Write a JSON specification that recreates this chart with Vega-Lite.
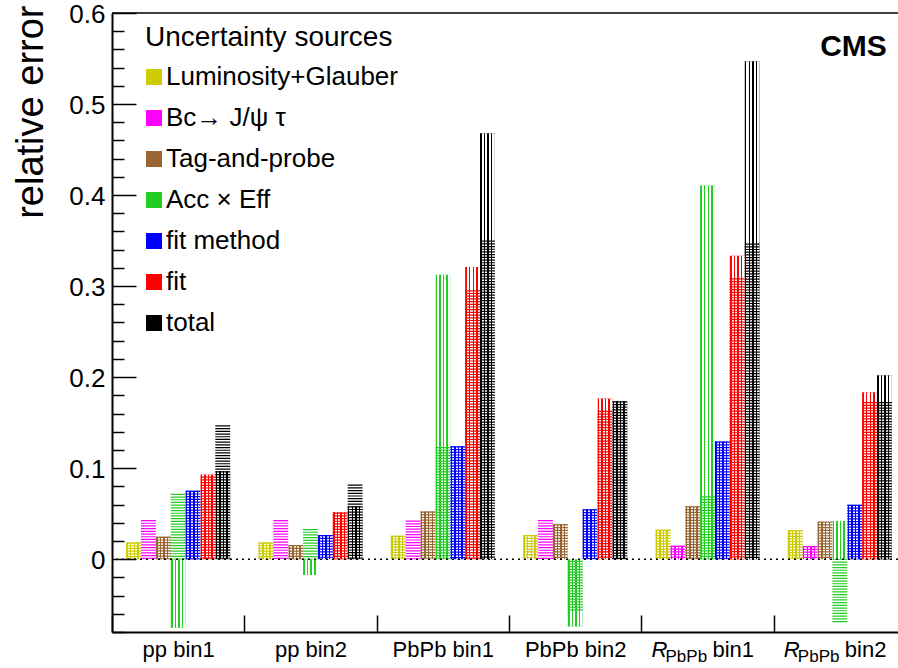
{
  "$schema": "https://vega.github.io/schema/vega-lite/v6.json",
  "autosize": {"type": "none"},
  "padding": {"left": 112, "top": 13, "right": 0, "bottom": 36},
  "width": 786,
  "height": 619,
  "background": "white",
  "config": {"view": {"stroke": null}, "font": "Liberation Sans"},
  "data": {"values": [
    {"bin": "pp bin1", "src": "Luminosity+Glauber", "a": 0.0184, "b": 0.0184},
    {"bin": "pp bin1", "src": "Bc→ J/ψ τ", "a": 0.0431, "b": 0},
    {"bin": "pp bin1", "src": "Tag-and-probe", "a": 0.0247, "b": 0.0247},
    {"bin": "pp bin1", "src": "Acc × Eff", "a": 0.0719, "b": -0.0752},
    {"bin": "pp bin1", "src": "fit method", "a": 0.0752, "b": 0.0752},
    {"bin": "pp bin1", "src": "fit", "a": 0.0907, "b": 0.0929},
    {"bin": "pp bin1", "src": "total", "a": 0.147, "b": 0.0969},
    {"bin": "pp bin2", "src": "Luminosity+Glauber", "a": 0.0184, "b": 0.0184},
    {"bin": "pp bin2", "src": "Bc→ J/ψ τ", "a": 0.0431, "b": 0},
    {"bin": "pp bin2", "src": "Tag-and-probe", "a": 0.0155, "b": 0.0155},
    {"bin": "pp bin2", "src": "Acc × Eff", "a": 0.0332, "b": -0.0174},
    {"bin": "pp bin2", "src": "fit method", "a": 0.0265, "b": 0.0265},
    {"bin": "pp bin2", "src": "fit", "a": 0.0512, "b": 0.0515},
    {"bin": "pp bin2", "src": "total", "a": 0.0819, "b": 0.0582},
    {"bin": "PbPb bin1", "src": "Luminosity+Glauber", "a": 0.0258, "b": 0.0258},
    {"bin": "PbPb bin1", "src": "Bc→ J/ψ τ", "a": 0.0425, "b": 0},
    {"bin": "PbPb bin1", "src": "Tag-and-probe", "a": 0.0524, "b": 0.0524},
    {"bin": "PbPb bin1", "src": "Acc × Eff", "a": 0.1233, "b": 0.3125},
    {"bin": "PbPb bin1", "src": "fit method", "a": 0.124, "b": 0.124},
    {"bin": "PbPb bin1", "src": "fit", "a": 0.2955, "b": 0.321},
    {"bin": "PbPb bin1", "src": "total", "a": 0.35, "b": 0.468},
    {"bin": "PbPb bin2", "src": "Luminosity+Glauber", "a": 0.0265, "b": 0.0265},
    {"bin": "PbPb bin2", "src": "Bc→ J/ψ τ", "a": 0.0431, "b": 0},
    {"bin": "PbPb bin2", "src": "Tag-and-probe", "a": 0.0383, "b": 0.0383},
    {"bin": "PbPb bin2", "src": "Acc × Eff", "a": -0.0564, "b": -0.074},
    {"bin": "PbPb bin2", "src": "fit method", "a": 0.0548, "b": 0.0548},
    {"bin": "PbPb bin2", "src": "fit", "a": 0.163, "b": 0.1765},
    {"bin": "PbPb bin2", "src": "total", "a": 0.1735, "b": 0.1735},
    {"bin": "R_PbPb bin1", "src": "Luminosity+Glauber", "a": 0.0324, "b": 0.0324},
    {"bin": "R_PbPb bin1", "src": "Bc→ J/ψ τ", "a": 0.0147, "b": 0.0147},
    {"bin": "R_PbPb bin1", "src": "Tag-and-probe", "a": 0.0581, "b": 0.0581},
    {"bin": "R_PbPb bin1", "src": "Acc × Eff", "a": 0.0691, "b": 0.4104},
    {"bin": "R_PbPb bin1", "src": "fit method", "a": 0.1292, "b": 0.1292},
    {"bin": "R_PbPb bin1", "src": "fit", "a": 0.3086, "b": 0.3334},
    {"bin": "R_PbPb bin1", "src": "total", "a": 0.3468, "b": 0.547},
    {"bin": "R_PbPb bin2", "src": "Luminosity+Glauber", "a": 0.0317, "b": 0.0317},
    {"bin": "R_PbPb bin2", "src": "Bc→ J/ψ τ", "a": 0.0144, "b": 0.0144},
    {"bin": "R_PbPb bin2", "src": "Tag-and-probe", "a": 0.0412, "b": 0.0412},
    {"bin": "R_PbPb bin2", "src": "Acc × Eff", "a": -0.0692, "b": 0.042},
    {"bin": "R_PbPb bin2", "src": "fit method", "a": 0.0597, "b": 0.0597},
    {"bin": "R_PbPb bin2", "src": "fit", "a": 0.1726, "b": 0.1833},
    {"bin": "R_PbPb bin2", "src": "total", "a": 0.1726, "b": 0.2021}
  ]},
  "resolve": {"axis": {"y": "independent"}},
  "layer": [
    {
      "mark": {"type": "bar"},
      "encoding": {
        "x": {"field": "bin", "type": "nominal",
          "scale": {"type": "band", "domain": ["pp bin1", "pp bin2", "PbPb bin1", "PbPb bin2", "R_PbPb bin1", "R_PbPb bin2"], "range": [0, 794], "paddingInner": 0, "paddingOuter": 0},
          "axis": {"title": null, "domain": true, "domainColor": "black", "domainWidth": 2, "ticks": true, "tickBand": "extent", "tickSize": -17, "tickColor": "black", "tickWidth": 1.5, "labelFontSize": 22, "labelColor": "black", "labelPadding": 24, "labelAngle": 0, "labelExpr": "indexof(datum.label, 'R_') == 0 ? '' : datum.label", "zindex": 1}},
        "xOffset": {"field": "src", "type": "nominal", "scale": {"domain": ["Luminosity+Glauber", "Bc→ J/ψ τ", "Tag-and-probe", "Acc × Eff", "fit method", "fit", "total"], "paddingOuter": 0.952, "paddingInner": 0}},
        "y": {"field": "b", "type": "quantitative",
          "scale": {"domain": [-0.08, 0.6], "nice": false, "zero": false},
          "axis": {"orient": "left", "title": "relative error", "values": [0, 0.1, 0.2, 0.3, 0.4, 0.5, 0.6],
            "labelExpr": "abs(datum.value) < 0.001 ? '0' : format(datum.value, '.1f')",
            "labelOverlap": false, "labelFlush": false, "labelOffset": 1.5,
            "tickSize": -24,
            "grid": false, "domainColor": "black", "domainWidth": 2, "tickColor": "black", "tickWidth": 1.5,
            "labelFontSize": 26, "labelColor": "black", "labelPadding": 31,
            "titleFontSize": 38, "titleFontWeight": "normal", "titleColor": "black", "titleAnchor": "end", "titleX": -70, "titleY": -8, "titleBaseline": "alphabetic", "titleAlign": "right", "zindex": 1}},
        "color": {"field": "src", "type": "nominal",
          "scale": {"domain": ["Luminosity+Glauber", "Bc→ J/ψ τ", "Tag-and-probe", "Acc × Eff", "fit method", "fit", "total"], "range": ["#cccc00", "#ff00ff", "#996633", "#22cc22", "#0000ff", "#ff0000", "#000000"]},
          "legend": {"title": "Uncertainty sources", "orient": "none", "legendX": 33, "legendY": 11, "titleFontSize": 28, "titleFontWeight": "normal", "titleColor": "black", "titlePadding": 12, "titleLimit": 500, "labelFontSize": 26, "labelColor": "black", "labelOffset": -1, "symbolOffset": -4, "symbolType": "square", "symbolSize": 256, "symbolStrokeWidth": 0, "symbolOpacity": 1, "rowPadding": 15, "labelLimit": 400}}
      }
    },
    {
      "mark": {"type": "bar", "fill": {"gradient": "linear", "x1": 0, "y1": 0, "x2": 1, "y2": 0, "stops": [
        {"offset": 0, "color": "#ffffff"}, {"offset": 0.02, "color": "#ffffff"}, {"offset": 0.02, "color": "rgba(255,255,255,0)"}, {"offset": 0.12, "color": "rgba(255,255,255,0)"},
        {"offset": 0.12, "color": "#ffffff"}, {"offset": 0.26, "color": "#ffffff"}, {"offset": 0.26, "color": "rgba(255,255,255,0)"}, {"offset": 0.36, "color": "rgba(255,255,255,0)"},
        {"offset": 0.36, "color": "#ffffff"}, {"offset": 0.5, "color": "#ffffff"}, {"offset": 0.5, "color": "rgba(255,255,255,0)"}, {"offset": 0.6, "color": "rgba(255,255,255,0)"},
        {"offset": 0.6, "color": "#ffffff"}, {"offset": 0.74, "color": "#ffffff"}, {"offset": 0.74, "color": "rgba(255,255,255,0)"}, {"offset": 0.84, "color": "rgba(255,255,255,0)"},
        {"offset": 0.84, "color": "#ffffff"}, {"offset": 1, "color": "#ffffff"}]}},
      "encoding": {
        "x": {"field": "bin", "type": "nominal"},
        "xOffset": {"field": "src", "type": "nominal"},
        "y": {"field": "b", "type": "quantitative",
          "axis": {"orient": "left", "title": null, "values": [-0.08, -0.06, -0.04, -0.02, 0.02, 0.04, 0.06, 0.08, 0.12, 0.14, 0.16, 0.18, 0.22, 0.24, 0.26, 0.28, 0.32, 0.34, 0.36, 0.38, 0.42, 0.44, 0.46, 0.48, 0.52, 0.54, 0.56, 0.58],
            "labels": false, "domain": false, "grid": false, "tickSize": -12, "tickColor": "black", "tickWidth": 1.5, "zindex": 1}}
      }
    },
    {
      "mark": {"type": "rule", "strokeWidth": 14.86, "strokeDash": [1.2, 1.5], "strokeCap": "butt"},
      "encoding": {
        "x": {"field": "bin", "type": "nominal"},
        "xOffset": {"field": "src", "type": "nominal"},
        "y": {"field": "a", "type": "quantitative", "axis": null},
        "y2": {"datum": 0},
        "color": {"field": "src", "type": "nominal", "legend": null}
      }
    },
    {
      "data": {"values": [{"v": 0}]},
      "mark": {"type": "rule", "strokeDash": [2, 4], "strokeWidth": 1.5, "color": "black"},
      "encoding": {"y": {"field": "v", "type": "quantitative", "axis": null}}
    },
    {
      "data": {"values": [{"v": 0.6}]},
      "mark": {"type": "rule", "strokeWidth": 1.5, "color": "black"},
      "encoding": {"y": {"field": "v", "type": "quantitative", "axis": null}}
    },
    {
      "data": {"values": [{"bin": "R_PbPb bin1", "t": "bin1"}, {"bin": "R_PbPb bin2", "t": "bin2"}]},
      "layer": [
        {"mark": {"type": "text", "text": "R", "fontStyle": "italic", "fontSize": 22, "align": "left", "baseline": "middle", "dx": -56, "color": "black"},
         "encoding": {"x": {"field": "bin", "type": "nominal"}, "y": {"datum": -0.1, "axis": null}}},
        {"mark": {"type": "text", "text": "PbPb", "fontSize": 17, "align": "left", "baseline": "middle", "dx": -42, "dy": 7, "color": "black"},
         "encoding": {"x": {"field": "bin", "type": "nominal"}, "y": {"datum": -0.1, "axis": null}}},
        {"mark": {"type": "text", "fontSize": 22, "align": "left", "baseline": "middle", "dx": 5, "color": "black"},
         "encoding": {"x": {"field": "bin", "type": "nominal"}, "y": {"datum": -0.1, "axis": null}, "text": {"field": "t"}}}
      ]
    },
    {
      "data": {"values": [{"bin": "R_PbPb bin2", "t": "CMS"}]},
      "mark": {"type": "text", "fontSize": 30, "fontWeight": "bold", "align": "right", "baseline": "middle", "dx": 47, "color": "black"},
      "encoding": {"x": {"field": "bin", "type": "nominal"}, "y": {"datum": 0.5625, "axis": null}, "text": {"field": "t"}}
    }
  ]
}
